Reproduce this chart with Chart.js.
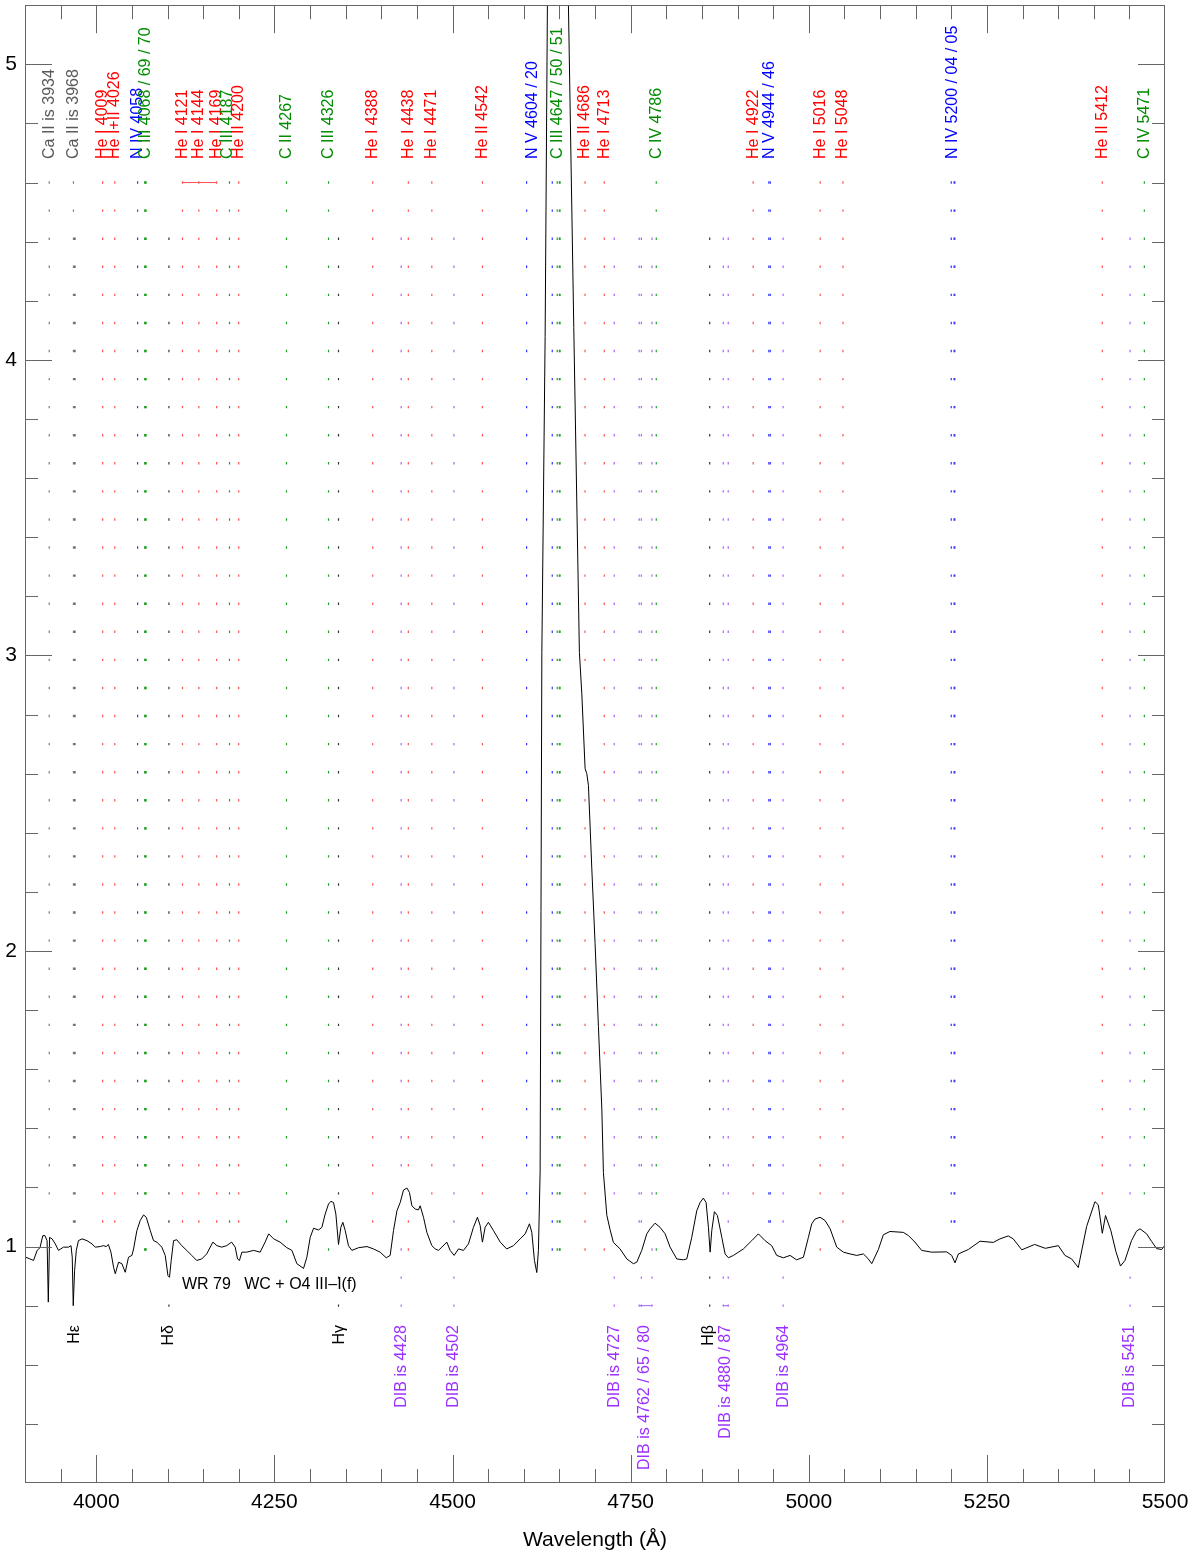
<!DOCTYPE html>
<html><head><meta charset="utf-8">
<script src="https://cdn.jsdelivr.net/npm/chart.js@4"></script>
<style>html,body{margin:0;padding:0;background:#fff}canvas{display:block}</style>
</head><body>
<canvas id="c" width="1200" height="1556"></canvas>
<script>
// ---------- spectrum ----------
const wavelength = [3900,3907,3912,3917,3921,3925,3928,3931,3932.7,3934.5,3938,3942.5,3947,3954,3961,3964.6,3966.3,3967.7,3969.6,3972,3975,3980,3987,3994,3998.6,4005.6,4010,4014,4017,4020.6,4024.3,4026.7,4031.3,4036,4040.7,4045.3,4050,4052.4,4057,4061.7,4066.4,4070.2,4075.8,4080.4,4085,4092,4096.8,4100.6,4102.8,4105.2,4108.5,4113,4120,4127,4134,4141,4148,4155,4163.7,4169.4,4176,4183,4190,4195,4198.3,4201,4204.4,4211,4221,4230,4237,4242,4249,4258,4267.6,4274.6,4281.6,4290.9,4295.6,4300.3,4305,4312,4316.7,4321.3,4326,4329.3,4333,4336.3,4340,4343.3,4346.1,4349.4,4354,4358.8,4368,4380,4389,4398.5,4407,4412.5,4417.2,4422,4426.6,4431.2,4436,4439.6,4443,4447.6,4452.2,4454.6,4459.3,4464,4471,4475.7,4480.3,4485,4492,4496.7,4502.3,4508.4,4515.4,4522.4,4529.4,4535,4538.8,4542,4545.8,4550.4,4557.5,4567,4576,4585.6,4595,4602,4608,4611.3,4615,4618.3,4620.6,4622,4623,4625.4,4630,4633.2,4638,4648,4657,4662.7,4670.2,4678.1,4681.5,4686.1,4688.5,4690.8,4695.5,4700.1,4704.8,4709.6,4711.8,4716.6,4721.2,4725.8,4735.2,4744.6,4753.9,4758.6,4765.6,4772.7,4777.3,4784.3,4791.4,4798.4,4805.4,4814.8,4824,4828.8,4835.8,4842.8,4847.5,4852.1,4855.9,4859.2,4861.6,4863.9,4867.6,4871.8,4878,4882.6,4887.3,4894.3,4908.3,4920,4929.3,4938.7,4948,4955,4964.4,4973.8,4983,4992.5,4999.5,5004.2,5008.8,5015.9,5022.9,5030,5039.3,5048.6,5058,5067.4,5076.7,5083,5088.4,5097.7,5104.7,5114,5132.7,5140,5149,5158.5,5172.5,5193.6,5200.6,5205.3,5210,5224,5240.4,5259,5268.4,5280,5287,5299,5317,5332,5350.3,5359.6,5369,5378.3,5390,5401.7,5406.4,5412,5416.5,5424,5431,5437.5,5443.8,5453,5460,5464.9,5474.2,5481.3,5488.3,5495.3,5500];
const flux = [0.965,0.958,0.953,0.987,0.996,1.037,1.037,1.02,0.812,1.031,1.026,1.009,0.987,0.998,0.998,1.003,0.964,0.80,0.919,0.987,1.02,1.026,1.02,1.009,0.998,1.0,1.003,1.0,1.007,0.981,0.93,0.908,0.947,0.942,0.913,0.964,0.97,0.992,1.054,1.088,1.107,1.099,1.054,1.02,1.015,0.998,0.97,0.902,0.896,0.953,1.02,1.023,1.003,0.987,0.97,0.953,0.958,0.975,1.015,1.003,0.998,1.003,1.015,0.998,0.958,0.953,0.981,0.981,0.987,0.981,1.015,1.043,1.026,1.015,0.996,0.987,0.942,0.926,0.964,1.031,1.062,1.056,1.065,1.11,1.144,1.153,1.149,1.11,1.007,1.065,1.082,1.054,1.003,0.987,0.996,1.0,0.992,0.981,0.962,0.97,1.054,1.121,1.149,1.191,1.198,1.183,1.138,1.127,1.124,1.138,1.099,1.048,1.003,0.992,0.987,0.998,1.015,0.987,0.97,0.992,0.987,1.009,1.065,1.099,1.071,1.015,1.065,1.082,1.054,1.015,0.992,1.003,1.026,1.043,1.077,1.048,0.953,0.912,0.987,1.144,1.256,3.01,4.08,5.2,6.2,6.8,6.2,5.2,4.11,3.01,2.87,2.617,2.6,2.56,2.28,2.026,1.745,1.465,1.25,1.106,1.057,1.014,0.992,0.958,0.942,0.947,0.987,1.043,1.06,1.079,1.065,1.043,0.998,0.958,0.955,0.958,1.031,1.121,1.149,1.164,1.149,1.065,0.981,1.054,1.118,1.105,1.031,0.975,0.962,0.97,0.992,1.02,1.043,1.02,1.003,0.97,0.962,0.97,0.955,0.964,1.031,1.077,1.093,1.099,1.088,1.06,0.998,0.981,0.975,0.97,0.975,0.96,0.942,0.99,1.04,1.051,1.048,1.037,1.015,0.987,0.981,0.982,0.97,0.945,0.975,0.99,1.018,1.014,1.026,1.036,1.026,0.989,1.007,0.994,1.003,0.97,0.958,0.929,1.068,1.152,1.141,1.045,1.105,1.054,0.984,0.934,0.953,1.02,1.052,1.06,1.043,1.017,0.993,0.99,1.005];

// ---------- line identifications ----------
const topLabels = ['Ca II is 3934','Ca II is 3968','He I 4009','He I+II 4026','N IV 4058','C III 4068 / 69 / 70','He I 4121','He I 4144','He I 4169','C III 4187','He II 4200','C II 4267','C III 4326','He I 4388','He I 4438','He I 4471','He II 4542','N V 4604 / 20','C III 4647 / 50 / 51','He II 4686','He I 4713','C IV 4786','He I 4922','N V 4944 / 46','He I 5016','He I 5048','N IV 5200 / 04 / 05','He II 5412','C IV 5471'];
const topLabelWave = [3934,3968,4009,4026,4058,4069,4121,4144,4169,4185,4200,4267,4326,4388,4438,4471,4542,4612,4648,4686,4713,4786,4922,4945,5016,5048,5202,5412,5471];
const topDotWaves = [[3934],[3968],[4009],[4026],[4058],[4068,4069,4070],[4121],[4144],[4169],[4187],[4200],[4267],[4326],[4388],[4438],[4471],[4542],[4604,4640],[4647,4650,4651],[4686],[4713],[4786],[4922],[4944,4946],[5016],[5048],[5200,5204,5205],[5412],[5471]];
const topKinds = ['ca','ca','he','he','n','c','he','he','he','c','he','c','c','he','he','he','he','n','c','he','he','c','he','n','he','he','n','he','c'];

const botLabels = ['H\u03b5','H\u03b4','H\u03b3','DIB is 4428','DIB is 4502','DIB is 4727','DIB is 4762 / 65 / 80','H\u03b2','DIB is 4880 / 87','DIB is 4964','DIB is 5451'];
const botLabelWave = [3970,4102,4341,4428,4502,4727,4769,4860,4883.5,4964,5451];
const botDotWaves = [[3970],[4102],[4340],[4428],[4502],[4727],[4762,4765,4780],[4861],[4880,4887],[4964],[5451]];
const botKinds = ['h','h','h','dib','dib','dib','dib','h','dib','dib','dib'];

// marker row levels
const rowLevels = [0.800,0.895,0.990,1.085,1.180,1.275,1.370,1.465,1.560,1.655,1.750,1.845,1.940,2.035,2.130,2.225,2.320,2.415,2.510,2.605,2.700,2.795,2.890,2.985,3.080,3.175,3.270,3.365,3.460,3.555,3.650,3.745,3.840,3.935,4.030,4.125,4.220,4.315,4.410,4.505,4.600];
const topRowFirst = 2, topRowLast = 40;   // indices into rowLevels
const botRowFirst = 0, botRowLast = 38;

// bracket bars
const barStart = [4121, 4762, 4880];
const barEnd   = [4169, 4780, 4887];
const barLevel = [4.600, 0.800, 0.800];
const barKind  = ['he','dib','dib'];

// axes
const xMin = 3900, xMax = 5500, yMin = 0.2, yMax = 5.2;
const xTickLabels = [4000,4250,4500,4750,5000,5250,5500];
const yTickLabels = [1,2,3,4,5];
const starTitle = 'WR 79   WC + O4 III\u2013I(f)';
const xTitle = 'Wavelength (\u00c5)';

const kindColor = {ca:'#5a5a5a', h:'#000000', he:'#ff0000', n:'#0000ff', c:'#008c00', dib:'#9b30ff'};
const dotColor  = {ca:'#7a7a7a', h:'#333333', he:'#ff5050', n:'#3030ff', c:'#20a020', dib:'#a860ff'};

function specRange(lam, w) {
  let lo = Infinity, hi = -Infinity;
  const interp = (l) => {
    for (let i = 0; i < wavelength.length - 1; i++) {
      if (l >= wavelength[i] && l <= wavelength[i+1]) {
        const t = (l - wavelength[i]) / (wavelength[i+1] - wavelength[i]);
        return flux[i] + t * (flux[i+1] - flux[i]);
      }
    }
    return 1;
  };
  [lam - w, lam, lam + w].forEach(l => { const v = interp(l); lo = Math.min(lo, v); hi = Math.max(hi, v); });
  wavelength.forEach((l, i) => { if (l > lam - w && l < lam + w) { lo = Math.min(lo, flux[i]); hi = Math.max(hi, flux[i]); } });
  return [lo, hi];
}

function dotsFor(waves, first, last) {
  const pts = [];
  waves.forEach(l => {
    const [lo, hi] = specRange(l, 4);
    for (let j = first; j <= last; j++) {
      const r = rowLevels[j];
      if (r >= lo - 0.06 && r <= hi + 0.06) continue;
      pts.push({x: l, y: r});
    }
  });
  return pts;
}

const datasets = [];
datasets.push({
  data: wavelength.map((l, i) => ({x: l, y: flux[i]})),
  showLine: true, borderColor: '#000', borderWidth: 1, pointRadius: 0, tension: 0, order: 0
});
topDotWaves.forEach((w, k) => datasets.push({
  data: dotsFor(w, topRowFirst, topRowLast), showLine: false,
  pointStyle: 'line', rotation: 90, pointRadius: 1.2, borderWidth: 1.2,
  borderColor: dotColor[topKinds[k]], backgroundColor: dotColor[topKinds[k]], order: 1
}));
botDotWaves.forEach((w, k) => datasets.push({
  data: dotsFor(w, botRowFirst, botRowLast), showLine: false,
  pointStyle: 'line', rotation: 90, pointRadius: 1.2, borderWidth: 1.2,
  borderColor: dotColor[botKinds[k]], backgroundColor: dotColor[botKinds[k]], order: 1
}));
barStart.forEach((s, k) => datasets.push({
  data: [{x: s, y: barLevel[k]}, {x: barEnd[k], y: barLevel[k]}], showLine: true,
  borderColor: dotColor[barKind[k]], borderWidth: 1, pointRadius: 0, order: 1
}));

const FONT = '"Liberation Sans", Arial, Helvetica, sans-serif';
const decor = {
  id: 'decor',
  afterDraw(chart) {
    const ctx = chart.ctx, a = chart.chartArea, xs = chart.scales.x, ys = chart.scales.y;
    ctx.save();
    ctx.strokeStyle = '#666'; ctx.lineWidth = 1;
    ctx.strokeRect(Math.round(a.left) + 0.5, Math.round(a.top) + 0.5, Math.round(a.right - a.left) - 1, Math.round(a.bottom - a.top) - 1);
    ctx.beginPath();
    for (let v = 3950; v < xMax; v += 50) {
      const px = Math.round(xs.getPixelForValue(v)) + 0.5;
      const len = (v % 250 === 0) ? 28 : 14;
      ctx.moveTo(px, a.bottom); ctx.lineTo(px, a.bottom - len);
      ctx.moveTo(px, a.top); ctx.lineTo(px, a.top + len);
    }
    for (let i = 2; i <= 26; i++) {
      const v = i / 5;
      const py = Math.round(ys.getPixelForValue(v)) + 0.5;
      const len = (i % 5 === 0) ? 27 : 13;
      ctx.moveTo(a.left, py); ctx.lineTo(a.left + len, py);
      ctx.moveTo(a.right, py); ctx.lineTo(a.right - len, py);
    }
    ctx.stroke();

    ctx.fillStyle = '#000';
    ctx.font = '21px ' + FONT;
    ctx.textAlign = 'center'; ctx.textBaseline = 'middle';
    xTickLabels.forEach(v => ctx.fillText(String(v), xs.getPixelForValue(v), 1502));
    ctx.textAlign = 'right';
    yTickLabels.forEach(v => ctx.fillText(String(v), 17, ys.getPixelForValue(v)));
    ctx.textAlign = 'center';
    ctx.fillText(xTitle, (a.left + a.right) / 2, 1540);

    ctx.font = '16px ' + FONT;
    ctx.textAlign = 'left';
    ctx.fillText(starTitle, 182, 1285);

    const rot = (txt, x, y, align, color) => {
      ctx.save(); ctx.translate(x, y); ctx.rotate(-Math.PI / 2);
      ctx.textAlign = align; ctx.textBaseline = 'middle'; ctx.fillStyle = color;
      ctx.fillText(txt, 0, 0); ctx.restore();
    };
    topLabels.forEach((t, k) => rot(t, xs.getPixelForValue(topLabelWave[k]), 159, 'left', kindColor[topKinds[k]]));
    botLabels.forEach((t, k) => rot(t, xs.getPixelForValue(botLabelWave[k]), 1325, 'right', kindColor[botKinds[k]]));
    ctx.restore();
  }
};

new Chart(document.getElementById('c'), {
  type: 'scatter',
  data: { datasets },
  options: {
    responsive: false, animation: false, devicePixelRatio: 1,
    layout: { padding: { left: 25, right: 35, top: 1, bottom: 73 } },
    plugins: { legend: { display: false }, tooltip: { enabled: false } },
    scales: {
      x: { type: 'linear', min: xMin, max: xMax, display: false },
      y: { type: 'linear', min: yMin, max: yMax, display: false }
    }
  },
  plugins: [decor]
});
</script>
</body></html>
